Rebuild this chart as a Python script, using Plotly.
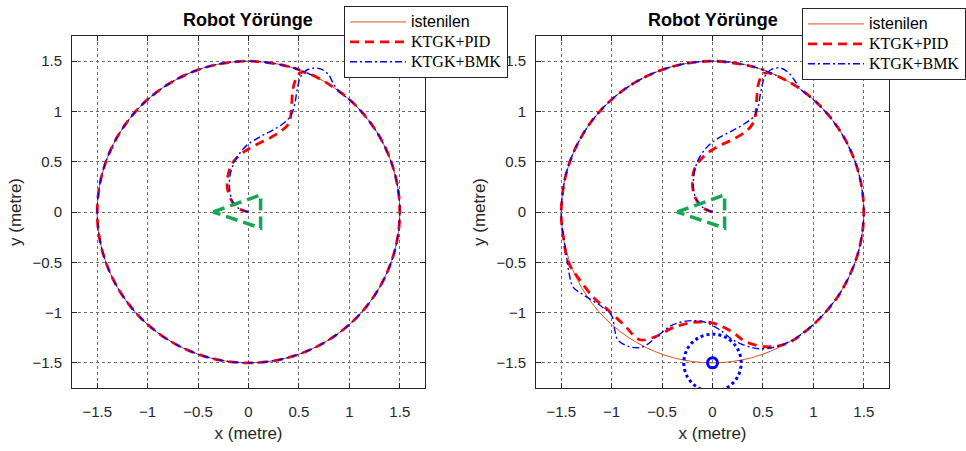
import plotly.graph_objects as go

# ---------------- data (metres) ----------------
tick_vals = [-1.5, -1, -0.5, 0, 0.5, 1, 1.5]
tick_text = ["\u22121.5", "\u22121", "\u22120.5", "0", "0.5", "1", "1.5"]

# desired trajectory (istenilen): circle of radius 1.5, points every 15 deg
desired_x = [1.5, 1.449, 1.299, 1.061, 0.75, 0.388, 0.0, -0.388, -0.75, -1.061, -1.299, -1.449,
             -1.5, -1.449, -1.299, -1.061, -0.75, -0.388, 0.0, 0.388, 0.75, 1.061, 1.299, 1.449, 1.5]
desired_y = [0.0, 0.388, 0.75, 1.061, 1.299, 1.449, 1.5, 1.449, 1.299, 1.061, 0.75, 0.388,
             0.0, -0.388, -0.75, -1.061, -1.299, -1.449, -1.5, -1.449, -1.299, -1.061, -0.75, -0.388, 0.0]

# left panel - KTGK+PID
pid1_x = [0, -0.09, -0.16, -0.21, -0.20, -0.15, -0.07, 0.04, 0.20, 0.33, 0.40, 0.42, 0.43, 0.44, 0.47, 0.53,
          0.75, 1.061, 1.299, 1.449, 1.5, 1.449, 1.299, 1.061, 0.75, 0.388, 0.0, -0.388, -0.75, -1.061,
          -1.299, -1.449, -1.5, -1.449, -1.299, -1.061, -0.75, -0.388, 0.0, 0.388, 0.513]
pid1_y = [0, 0.03, 0.10, 0.24, 0.38, 0.50, 0.58, 0.65, 0.73, 0.81, 0.88, 0.97, 1.10, 1.22, 1.32, 1.39,
          1.299, 1.061, 0.75, 0.388, 0.0, -0.388, -0.75, -1.061, -1.299, -1.449, -1.5, -1.449, -1.299, -1.061,
          -0.75, -0.388, 0.0, 0.388, 0.75, 1.061, 1.299, 1.449, 1.5, 1.449, 1.41]

# left panel - KTGK+BMK
bmk1_x = [0, -0.09, -0.16, -0.19, -0.17, -0.11, -0.02, 0.10, 0.25, 0.37, 0.43, 0.46, 0.48, 0.51, 0.56, 0.64,
          0.72, 0.79, 0.84, 0.882, 1.061, 1.299, 1.449, 1.5, 1.449, 1.299, 1.061, 0.75, 0.388, 0.0, -0.388,
          -0.75, -1.061, -1.299, -1.449, -1.5, -1.449, -1.299, -1.061, -0.75, -0.388, 0.0, 0.388, 0.634]
bmk1_y = [0, 0.03, 0.11, 0.27, 0.42, 0.55, 0.66, 0.74, 0.82, 0.90, 0.98, 1.08, 1.20, 1.33, 1.40, 1.43,
          1.42, 1.37, 1.28, 1.214, 1.061, 0.75, 0.388, 0.0, -0.388, -0.75, -1.061, -1.299, -1.449, -1.5, -1.449,
          -1.299, -1.061, -0.75, -0.388, 0.0, 0.388, 0.75, 1.061, 1.299, 1.449, 1.5, 1.449, 1.359]

# right panel - KTGK+PID (with obstacle at the bottom)
pid2_x = [0, -0.09, -0.17, -0.20, -0.17, -0.08, 0.05, 0.20, 0.33, 0.40, 0.43, 0.44, 0.46, 0.51,
          0.75, 1.061, 1.299, 1.449, 1.5, 1.449, 1.299, 1.149,
          0.93, 0.73, 0.53, 0.33, 0.19, -0.01, -0.21, -0.39, -0.57, -0.72, -0.87, -1.04, -1.17, -1.32, -1.43,
          -1.477, -1.5, -1.449, -1.299, -1.061, -0.75, -0.388, 0.0, 0.388, 0.513]
pid2_y = [0, 0.04, 0.14, 0.30, 0.45, 0.56, 0.65, 0.72, 0.80, 0.88, 0.98, 1.15, 1.29, 1.38,
          1.299, 1.061, 0.75, 0.388, 0.0, -0.388, -0.75, -0.964,
          -1.18, -1.31, -1.34, -1.29, -1.19, -1.10, -1.10, -1.15, -1.24, -1.27, -1.13, -0.97, -0.86, -0.67, -0.50,
          -0.26, 0.0, 0.388, 0.75, 1.061, 1.299, 1.449, 1.5, 1.449, 1.41]

# right panel - KTGK+BMK
bmk2_x = [0, -0.09, -0.17, -0.19, -0.15, -0.06, 0.05, 0.18, 0.32, 0.41, 0.45, 0.48, 0.52, 0.59, 0.68,
          0.76, 0.82, 0.882, 1.061, 1.299, 1.449, 1.5, 1.449, 1.299, 1.061, 0.923,
          0.80, 0.63, 0.47, 0.33, 0.20, 0.07, -0.06, -0.21, -0.39, -0.53, -0.69, -0.82, -0.94, -0.97, -1.00,
          -1.10, -1.27, -1.38, -1.42, -1.45, -1.48,
          -1.5, -1.449, -1.299, -1.061, -0.75, -0.388, 0.0, 0.388, 0.634]
bmk2_y = [0, 0.04, 0.15, 0.30, 0.50, 0.64, 0.73, 0.80, 0.88, 0.95, 1.04, 1.20, 1.35, 1.42, 1.43,
          1.38, 1.30, 1.214, 1.061, 0.75, 0.388, 0.0, -0.388, -0.75, -1.061, -1.182,
          -1.27, -1.34, -1.36, -1.33, -1.27, -1.17, -1.10, -1.08, -1.12, -1.22, -1.34, -1.34, -1.27, -1.17, -1.03,
          -0.94, -0.83, -0.75, -0.62, -0.42, -0.22,
          0.0, 0.388, 0.75, 1.061, 1.299, 1.449, 1.5, 1.449, 1.359]

# robot start pose (triangle)
robot_x = [-0.35, 0.12, 0.12, -0.35]
robot_y = [0.0, 0.17, -0.16, 0.0]

# obstacle: centre and its safety circle (r ~ 0.285), starting at the bottom
obst_x = [0.0]
obst_y = [-1.5]
safe_x = [0.0, 0.1425, 0.247, 0.285, 0.247, 0.1425, 0.0, -0.1425, -0.247, -0.285, -0.247, -0.1425, 0.0]
safe_y = [-1.785, -1.747, -1.6425, -1.5, -1.3575, -1.253, -1.215, -1.253, -1.3575, -1.5, -1.6425, -1.747, -1.785]

titles = ["Robot Yörünge", "Robot Yörünge"]
names = ["istenilen", "KTGK+PID", "KTGK+BMK"]

# ---------------- styles ----------------
ORANGE = "#D95319"
RED = "#FF0000"
BLUE = "#0000FF"
GREEN = "#17A652"
AX = "#262626"
SERIF = "Liberation Serif, Times New Roman, serif"
SANS = "Liberation Sans, Arial, sans-serif"


def label(text, family):
    return '<span style="font-family:%s;font-size:16px">%s</span>' % (family, text)


fig = go.Figure()


def add_panel(n, pid_x, pid_y, bmk_x, bmk_y):
    xa = "x" if n == 1 else "x2"
    ya = "y" if n == 1 else "y2"
    leg = "legend" if n == 1 else "legend2"
    fig.add_trace(go.Scatter(x=desired_x, y=desired_y, mode="lines", name=label(names[0], SANS),
                             line=dict(color=ORANGE, width=1, shape="spline"),
                             xaxis=xa, yaxis=ya, legend=leg))
    fig.add_trace(go.Scatter(x=pid_x, y=pid_y, mode="lines", name=label(names[1], SERIF),
                             line=dict(color=RED, width=2.8, dash="9px,6px", shape="spline"),
                             xaxis=xa, yaxis=ya, legend=leg))
    fig.add_trace(go.Scatter(x=bmk_x, y=bmk_y, mode="lines", name=label(names[2], SERIF),
                             line=dict(color=BLUE, width=1.4, dash="7px,3px,2px,3px", shape="spline"),
                             xaxis=xa, yaxis=ya, legend=leg))
    fig.add_trace(go.Scatter(x=robot_x, y=robot_y, mode="lines", showlegend=False,
                             line=dict(color=GREEN, width=3.5, dash="12px,6px"),
                             xaxis=xa, yaxis=ya))


add_panel(1, pid1_x, pid1_y, bmk1_x, bmk1_y)
add_panel(2, pid2_x, pid2_y, bmk2_x, bmk2_y)

fig.add_trace(go.Scatter(x=safe_x, y=safe_y, mode="lines", showlegend=False,
                         line=dict(color=BLUE, width=3, dash="dot", shape="spline"),
                         xaxis="x2", yaxis="y2"))
fig.add_trace(go.Scatter(x=obst_x, y=obst_y, mode="markers", showlegend=False,
                         marker=dict(symbol="circle-open", size=10, color=BLUE, line=dict(width=3)),
                         xaxis="x2", yaxis="y2"))

W, H = 966, 451
ydom = [63 / H, 415 / H]
xdom1 = [72 / W, 425 / W]
xdom2 = [536 / W, 889 / W]

axis_common = dict(range=[-1.75, 1.75], tickvals=tick_vals, ticktext=tick_text,
                   ticks="inside", ticklen=5, tickcolor=AX, showline=True, linecolor=AX, linewidth=1,
                   mirror="ticks", showgrid=True, griddash="dot", gridcolor="#6e6e6e", gridwidth=1,
                   zeroline=False, tickfont=dict(family=SANS, size=15, color=AX),
                   fixedrange=True)


def xt():
    return dict(text="x (metre)", standoff=8, font=dict(family=SANS, size=17, color=AX))


def yt():
    return dict(text="y (metre)", standoff=6, font=dict(family=SANS, size=17, color=AX))


legend_common = dict(yanchor="top", bgcolor="white", bordercolor=AX, borderwidth=1,
                     itemwidth=56, font=dict(family=SANS, size=13, color="black"), tracegroupgap=0)

fig.update_layout(
    width=W, height=H,
    margin=dict(l=0, r=0, t=0, b=0),
    paper_bgcolor="white", plot_bgcolor="white",
    xaxis=dict(domain=xdom1, anchor="y", ticklabelstandoff=10, title=xt(), **axis_common),
    yaxis=dict(domain=ydom, anchor="x", ticklabelstandoff=6, title=yt(), **axis_common),
    xaxis2=dict(domain=xdom2, anchor="y2", ticklabelstandoff=10, title=xt(), **axis_common),
    yaxis2=dict(domain=ydom, anchor="x2", ticklabelstandoff=6, title=yt(), **axis_common),
    legend=dict(x=344 / W, y=1 - 6 / H, xanchor="left", **legend_common),
    legend2=dict(x=1.0, y=1 - 8 / H, xanchor="right", **legend_common),
    annotations=[
        dict(text="<b>%s</b>" % titles[0], x=(xdom1[0] + xdom1[1]) / 2, y=1 - 20 / H,
             xref="paper", yref="paper", showarrow=False, xanchor="center", yanchor="middle",
             font=dict(family=SANS, size=18, color="black")),
        dict(text="<b>%s</b>" % titles[1], x=(xdom2[0] + xdom2[1]) / 2, y=1 - 20 / H,
             xref="paper", yref="paper", showarrow=False, xanchor="center", yanchor="middle",
             font=dict(family=SANS, size=18, color="black")),
    ],
)

fig.write_html("out.html", config={"displayModeBar": False},
               post_script="document.body.style.margin='0';")
